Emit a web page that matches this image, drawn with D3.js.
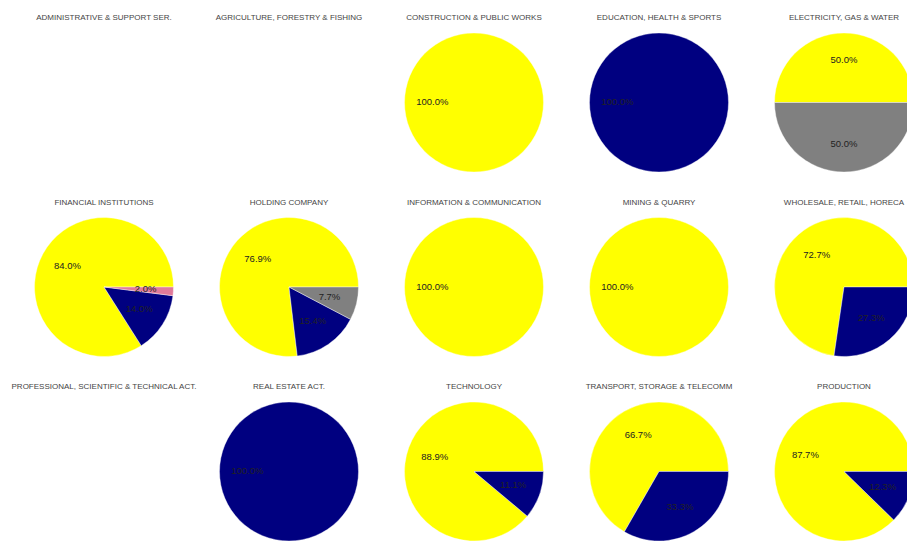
<!DOCTYPE html>
<html>
<head>
<meta charset="utf-8">
<script src="https://cdn.jsdelivr.net/npm/d3@7"></script>
<style>
  html, body { margin: 0; padding: 0; background: #ffffff; }
  svg { display: block; }
</style>
</head>
<body>
<svg id="chart" width="907" height="542"></svg>
<script>
// ---- data (percent shares per sector) ----
const sectors = [
  "ADMINISTRATIVE & SUPPORT SER.", "AGRICULTURE, FORESTRY & FISHING", "CONSTRUCTION & PUBLIC WORKS",
  "EDUCATION, HEALTH & SPORTS", "ELECTRICITY, GAS & WATER",
  "FINANCIAL INSTITUTIONS", "HOLDING COMPANY", "INFORMATION & COMMUNICATION",
  "MINING & QUARRY", "WHOLESALE, RETAIL, HORECA",
  "PROFESSIONAL, SCIENTIFIC & TECHNICAL ACT.", "REAL ESTATE ACT.", "TECHNOLOGY",
  "TRANSPORT, STORAGE & TELECOMM", "PRODUCTION"
];
const seriesNames = ["yellow", "navy", "gray", "pink"];
const yellowShare = [0, 0, 100, 0, 50, 84.0, 76.9, 100, 100, 72.7, 0, 0, 88.9, 66.7, 87.7];
const navyShare   = [0, 0, 0, 100, 0, 14.0, 15.4, 0, 0, 27.3, 0, 100, 11.1, 33.3, 12.3];
const grayShare   = [0, 0, 0, 0, 50, 0, 7.7, 0, 0, 0, 0, 0, 0, 0, 0];
const pinkShare   = [0, 0, 0, 0, 0, 2.0, 0, 0, 0, 0, 0, 0, 0, 0, 0];
const seriesColors = ["#ffff00", "#000080", "#808080", "#e07a9a"];

// ---- layout ----
const svg = d3.select("#chart");
const nCols = 5;
const colX = d3.scaleLinear().domain([0, 1]).range([104, 104 + 185]);
const rowY = d3.scaleLinear().domain([0, 1]).range([102.5, 102.5 + 184.5]);
const radius = 69.5;

const colorScale = d3.scaleOrdinal().domain(seriesNames).range(seriesColors);
const fmt = d3.format(".1f");

const pie = d3.pie()
  .sort(null)
  .value(d => d.value)
  .startAngle(Math.PI / 2)
  .endAngle(Math.PI / 2 - 2 * Math.PI);

const arc = d3.arc().innerRadius(0).outerRadius(radius);
const labelArc = d3.arc().innerRadius(radius * 0.6).outerRadius(radius * 0.6);

sectors.forEach((name, i) => {
  const col = i % nCols, row = Math.floor(i / nCols);
  const cx = colX(col), cy = rowY(row);
  const g = svg.append("g").attr("transform", `translate(${cx},${cy})`);

  g.append("text")
    .attr("x", 0)
    .attr("y", -84.5)
    .attr("text-anchor", "middle")
    .attr("dominant-baseline", "middle")
    .attr("font-family", "'Liberation Sans', Arial, sans-serif")
    .attr("font-size", 8)
    .attr("fill", "#444")
    .text(name);

  const vals = [yellowShare[i], navyShare[i], grayShare[i], pinkShare[i]];
  const data = seriesNames.map((s, k) => ({ key: s, value: vals[k] })).filter(d => d.value > 0);
  if (!data.length) return;

  const arcs = pie(data);
  g.selectAll("path.slice").data(arcs).enter().append("path")
    .attr("class", "slice")
    .attr("d", arc)
    .attr("fill", d => colorScale(d.data.key))
    .attr("stroke", "#ffffff")
    .attr("stroke-width", 0.4);

  g.selectAll("text.lbl").data(arcs).enter().append("text")
    .attr("class", "lbl")
    .attr("transform", d => `translate(${labelArc.centroid(d)})`)
    .attr("text-anchor", "middle")
    .attr("dominant-baseline", "middle")
    .attr("font-family", "'Liberation Sans', Arial, sans-serif")
    .attr("font-size", 9.5)
    .attr("fill", "#222")
    .text(d => fmt(d.data.value) + "%");
});
</script>
</body>
</html>
